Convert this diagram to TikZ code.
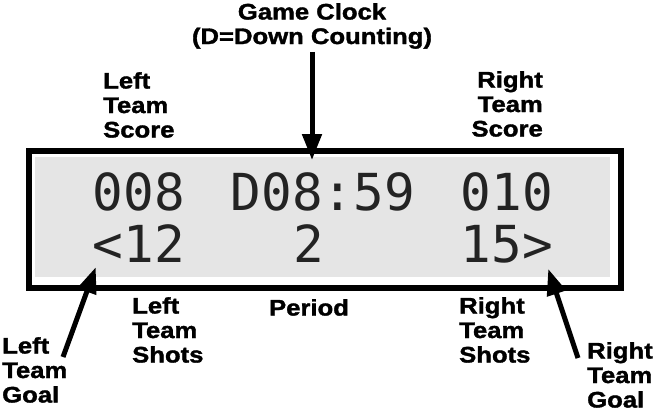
\documentclass[tikz,border=0pt]{standalone}
\usepackage{fontspec}
\usepackage{tikz}
\usetikzlibrary{arrows.meta, positioning, calc}
\newfontfamily\lblfont{Liberation Sans}[FakeStretch=1.14, BoldFeatures={FakeBold=1.6}]
\newfontfamily\lcdfont{DejaVu Sans Mono}
\definecolor{panelgray}{RGB}{229,229,229}
\definecolor{lcdink}{RGB}{35,35,35}

\begin{document}
\begin{tikzpicture}[x=1pt, y=-1pt,
    lbl/.style={font=\lblfont\bfseries\fontsize{22.5}{24.5}\selectfont, inner sep=0pt},
    lcd/.style={font=\lcdfont\fontsize{51}{51}\selectfont, text=lcdink, inner sep=0pt, anchor=base},
    pointer/.style={-{Triangle[length=26pt, width=19pt]}, line width=5pt}]
    \useasboundingbox (0,0) rectangle (658,416);

    % Cadre de l'afficheur
    \node[draw, line width=6pt, minimum width=592pt, minimum height=137pt, inner sep=0pt, anchor=north west] (frame) at (26,148) {};
    \node[fill=panelgray, minimum width=575pt, minimum height=120pt, inner sep=0pt, anchor=north west] (panel) at (35,157) {};

    % Ligne du haut
    \node[lcd] (lscorev) at (139,210) {008};
    \node[lcd] (clockv) at (323,210) {D08:59};
    \node[lcd] (rscorev) at (507,210) {010};

    % Ligne du bas
    \node[lcd] (lshotsv) at (139,262) {<12};
    \node[lcd] (periodv) at (309,262) {2};
    \node[lcd] (rshotsv) at (507,262) {15>};

    % Etiquettes du haut
    \node[lbl, align=center, anchor=north] (clock) at (312,3) {Game Clock\\(D=Down Counting)};
    \node[lbl, align=left, anchor=north west] (lscore) at (103,72) {Left\\Team\\Score};
    \node[lbl, align=right, anchor=north east] (rscore) at (543,71) {Right\\Team\\Score};

    % Etiquettes du bas
    \node[lbl, align=left, anchor=north west] (lshots) at (132,297) {Left\\Team\\Shots};
    \node[lbl, anchor=north] (period) at (309,299) {Period};
    \node[lbl, align=left, anchor=north west] (rshots) at (459,297) {Right\\Team\\Shots};
    \node[lbl, align=left, anchor=north west] (lgoal) at (2,337) {Left\\Team\\Goal};
    \node[lbl, align=left, anchor=north west] (rgoal) at (587,342) {Right\\Team\\Goal};

    % Fleches
    \coordinate (lgoaltail) at (63,357);
    \coordinate (rgoaltail) at (578,358);
    \draw[pointer, shorten <=3pt] (clock.south) -- ($(clock.south |- panel.north)+(0,3)$);
    \draw[pointer] (lgoaltail) -- ($(lshotsv.south west)+(3,5)$);
    \draw[pointer] (rgoaltail) -- ($(rshotsv.south east)+(-5,6)$);
\end{tikzpicture}
\end{document}
